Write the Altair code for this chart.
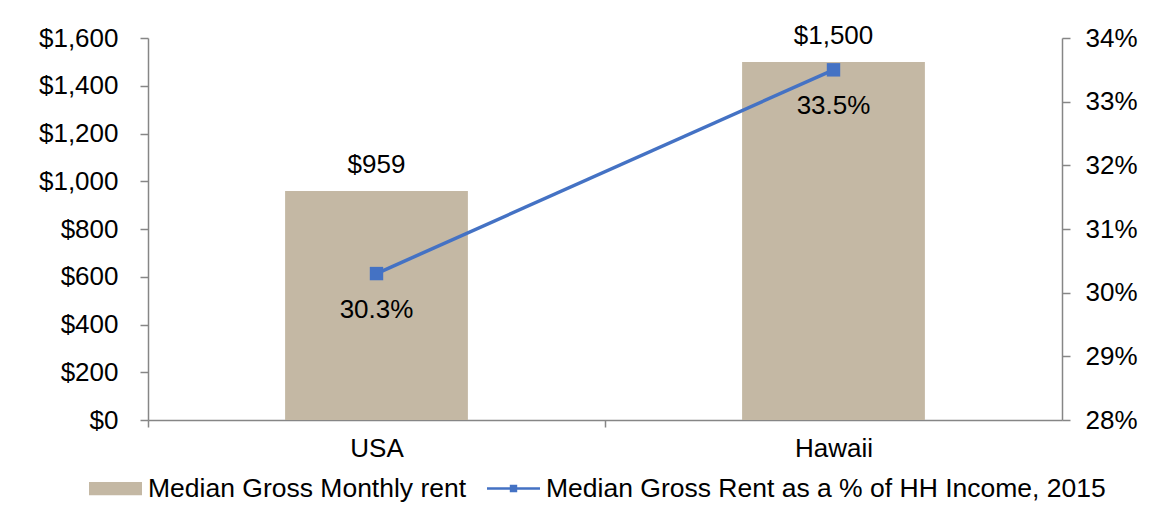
import altair as alt
import pandas as pd

# ---- data ----
categories = ["USA", "Hawaii"]
monthly_rent = [959, 1500]
rent_share = [0.303, 0.335]
series_names = ["Median Gross Monthly rent", "Median Gross Rent as a % of HH Income, 2015"]
rent_ticks = [0, 200, 400, 600, 800, 1000, 1200, 1400, 1600]
share_ticks = [0.28, 0.29, 0.30, 0.31, 0.32, 0.33, 0.34]

df = pd.DataFrame({"cat": categories, "rent": monthly_rent, "share": rent_share})
legend_df = pd.DataFrame({"series": series_names})

FONT = "Liberation Sans"
TAN = "#C4B8A4"
BLUE = "#4472C4"
GRAY = "#868686"
FS = 26

# legend symbols: a flat swatch and a line with a square marker
BAR_PATH = "M-1,-0.25H1V0.25H-1Z"
LINE_PATH = ("M-1,-0.05H-0.14V-0.14H0.14V-0.05H1V0.05H0.14V0.14H-0.14V0.05H-1Z")

HALF_STEP = 914 / 2 / 2  # ticks sit between categories, as in the source

x_enc = alt.X(
    "cat:N",
    sort=categories,
    scale=alt.Scale(paddingInner=0.6, paddingOuter=0.3),
    axis=alt.Axis(title=None, labelAngle=0, tickSize=7, tickOffset=-HALF_STEP,
                  labelOffset=HALF_STEP, labelPadding=8),
)

base = alt.Chart(df)

y_left = alt.Y(
    "rent:Q",
    scale=alt.Scale(domain=[0, 1600]),
    axis=alt.Axis(values=rent_ticks, format="$,.0f", title=None, tickSize=8,
                  labelPadding=22, grid=False, orient="left"),
)
bars = base.mark_bar(color=TAN).encode(x=x_enc, y=y_left)
bar_text = base.mark_text(dy=-18, baseline="alphabetic", font=FONT, fontSize=FS,
                          color="black").encode(
    x=x_enc, y=alt.Y("rent:Q"), text=alt.Text("rent:Q", format="$,.0f"))
left = alt.layer(bars, bar_text)

y_right = alt.Y(
    "share:Q",
    scale=alt.Scale(domain=[0.28, 0.34]),
    axis=alt.Axis(values=share_ticks, format=".0%", title=None, tickSize=8,
                  labelPadding=15, grid=False, orient="right"),
)
line = base.mark_line(color=BLUE, strokeWidth=3.5).encode(x=x_enc, y=y_right)
pts = base.mark_point(shape="square", filled=True, size=180, color=BLUE,
                      opacity=1).encode(x=x_enc, y=y_right)
line_text = base.mark_text(dy=44, baseline="alphabetic", font=FONT, fontSize=FS,
                           color="black").encode(
    x=x_enc, y=alt.Y("share:Q"), text=alt.Text("share:Q", format=".1%"))
right = alt.layer(line, pts, line_text)

leg = alt.Legend(
    title=None, orient="none", direction="horizontal", legendX=-59, legendY=424,
    symbolSize=2809, symbolStrokeWidth=0, labelFont=FONT, labelFontSize=26.5,
    labelColor="black", labelOffset=6, columnPadding=20, padding=0,
    labelLimit=0,
)
legend_layer = alt.Chart(legend_df).transform_filter("false").mark_point(
    filled=True, size=2809, opacity=1).encode(
    color=alt.Color("series:N", scale=alt.Scale(domain=series_names, range=[TAN, BLUE]),
                    legend=leg),
    shape=alt.Shape("series:N", scale=alt.Scale(domain=series_names,
                                                range=[BAR_PATH, LINE_PATH]),
                    legend=leg),
)

chart = alt.layer(left, right, legend_layer).resolve_scale(y="independent").properties(
    width=914, height=382,
    padding={"left": 140, "top": 30, "right": 93, "bottom": 95},
    autosize=alt.AutoSizeParams(type="none"),
).configure_view(stroke=None).configure_axis(
    labelFont=FONT, labelFontSize=FS, labelColor="black",
    domainColor=GRAY, tickColor=GRAY, domainWidth=1.5, tickWidth=1.5,
)

chart.save("out.html", embed_options={"renderer": "svg", "actions": False})
